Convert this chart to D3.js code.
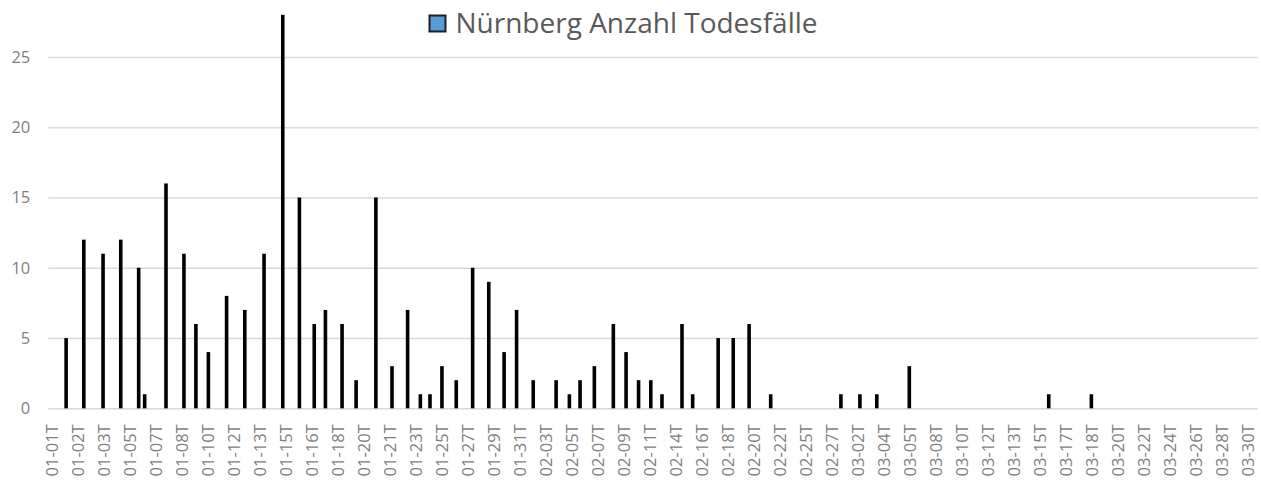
<!DOCTYPE html>
<html>
<head>
<meta charset="utf-8">
<script src="https://cdn.jsdelivr.net/npm/d3@7"></script>
<style>
  html, body { margin: 0; padding: 0; background: #ffffff; }
  svg { display: block; }
</style>
</head>
<body>
<svg id="chart" width="1261" height="484"></svg>
<script>
// ---------- data ----------
const seriesName = "Nürnberg Anzahl Todesfälle";

// category-axis labels, as shown (every 4th category carries a label)
const tickLabels = [
  "01-01T","01-02T","01-03T","01-05T","01-07T","01-08T","01-10T","01-12T",
  "01-13T","01-15T","01-16T","01-18T","01-20T","01-21T","01-23T","01-25T",
  "01-27T","01-29T","01-31T","02-03T","02-05T","02-07T","02-09T","02-11T",
  "02-14T","02-16T","02-18T","02-20T","02-22T","02-25T","02-27T","03-02T",
  "03-04T","03-05T","03-08T","03-10T","03-12T","03-13T","03-15T","03-17T",
  "03-18T","03-20T","03-22T","03-24T","03-26T","03-28T","03-30T"
];

// position of each bar along the category axis, in label steps (0 = "01-01T")
const barPositions = [
  0.56, 1.24, 1.98, 2.66, 3.35, 3.58, 4.40, 5.09, 5.55, 6.03,
  6.73, 7.43, 8.17, 8.89, 9.53, 10.10, 10.53, 11.17, 11.71, 12.47,
  13.09, 13.69, 14.18, 14.55, 15.01, 15.56, 16.19, 16.81, 17.40, 17.88,
  18.52, 19.40, 19.91, 20.32, 20.87, 21.60, 22.09, 22.57, 23.04, 23.47,
  24.24, 24.65, 25.63, 26.21, 26.82, 27.65, 30.35, 31.08, 31.73, 32.98,
  38.34, 39.98
];

// Nürnberg: number of deaths per bar
const deaths = [
  5, 12, 11, 12, 10, 1, 16, 11, 6, 4,
  8, 7, 11, 28, 15, 6, 7, 6, 2, 15,
  3, 7, 1, 1, 3, 2, 10, 9, 4, 7,
  2, 2, 1, 2, 3, 6, 4, 2, 2, 1,
  6, 1, 5, 5, 6, 1, 1, 1, 1, 3,
  1, 1
];

const yTicks = [0, 5, 10, 15, 20, 25];
const yMax = 30;

// ---------- layout ----------
const plot = { left: 48.3, right: 1257.7, bottom: 408.3, top: -13.3 };
const fontFamily = "'Open Sans', 'Liberation Sans', sans-serif";

const svg = d3.select("#chart");

const x = d3.scaleLinear()
  .domain([-0.125, tickLabels.length - 1 + 0.375])
  .range([plot.left, plot.right]);

const y = d3.scaleLinear()
  .domain([0, yMax])
  .range([plot.bottom, plot.top]);

// ---------- y axis with gridlines ----------
const yAxis = d3.axisLeft(y)
  .tickValues(yTicks)
  .tickSize(-(plot.right - plot.left))
  .tickPadding(18)
  .tickFormat(d3.format("d"));

const gy = svg.append("g")
  .attr("transform", `translate(${plot.left},0)`)
  .call(yAxis);
gy.select(".domain").remove();
gy.selectAll(".tick line")
  .attr("stroke", "#d9d9d9")
  .attr("stroke-width", 1.4);
gy.selectAll(".tick text")
  .attr("fill", "#7f7f7f")
  .style("font-family", fontFamily)
  .style("font-size", "16.5px");

// ---------- x axis (category labels) ----------
const xAxis = d3.axisBottom(x)
  .tickValues(d3.range(tickLabels.length))
  .tickSize(0)
  .tickFormat(i => tickLabels[i]);

const gx = svg.append("g")
  .attr("transform", `translate(0,${plot.bottom})`)
  .call(xAxis);
gx.select(".domain").remove();
gx.selectAll(".tick text")
  .attr("fill", "#7f7f7f")
  .style("font-family", fontFamily)
  .style("font-size", "16.5px")
  .attr("text-anchor", "end")
  .attr("transform", "translate(0,16) rotate(-90)")
  .attr("x", 0)
  .attr("y", 0)
  .attr("dy", "0.36em");

// ---------- bars ----------
const barWidth = 3.6;
const bars = barPositions.map((p, i) => ({ p, v: deaths[i] }));

svg.append("g")
  .selectAll("rect")
  .data(bars)
  .join("rect")
  .attr("x", d => x(d.p) - barWidth / 2)
  .attr("y", d => y(d.v))
  .attr("width", barWidth)
  .attr("height", d => y(0) - y(d.v))
  .attr("fill", "#000000");

// ---------- legend ----------
const legend = svg.append("g");
legend.append("rect")
  .attr("x", 429.5)
  .attr("y", 15.5)
  .attr("width", 16)
  .attr("height", 16)
  .attr("fill", "#5b9bd5")
  .attr("stroke", "#1f1f1f")
  .attr("stroke-width", 2);
legend.append("text")
  .attr("x", 455.5)
  .attr("y", 33)
  .attr("fill", "#595959")
  .style("font-family", fontFamily)
  .style("font-size", "28px")
  .text(seriesName);
</script>
</body>
</html>
